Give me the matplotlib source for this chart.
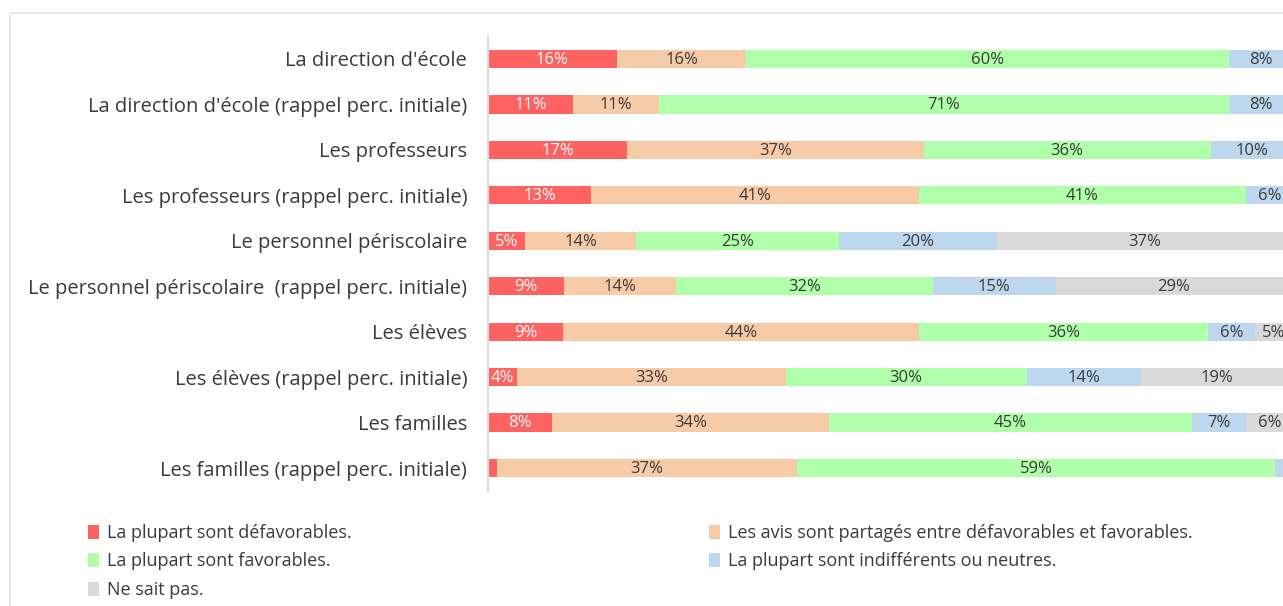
import matplotlib
matplotlib.use("Agg")
import matplotlib.pyplot as plt
from matplotlib.patches import Patch
from matplotlib.lines import Line2D
import numpy as np

plt.rcParams['font.family'] = ['Open Sans', 'DejaVu Sans']

## Data ##
categories = [
    "La direction d'école",
    "La direction d'école (rappel perc. initiale)",
    "Les professeurs",
    "Les professeurs (rappel perc. initiale)",
    "Le personnel périscolaire",
    "Le personnel périscolaire  (rappel perc. initiale)",
    "Les élèves",
    "Les élèves (rappel perc. initiale)",
    "Les familles",
    "Les familles (rappel perc. initiale)",
]
defavorables = [16.0, 10.6, 17.3, 12.8, 4.6, 9.4, 9.3, 3.6, 8.0, 1.1]
partages = [16.1, 10.6, 36.8, 40.7, 13.8, 14.0, 44.2, 33.4, 34.4, 37.3]
favorables = [59.9, 70.8, 35.7, 40.7, 25.2, 31.9, 36.0, 29.9, 45.0, 59.4]
neutres = [8.0, 8.1, 10.3, 5.7, 19.6, 15.2, 5.8, 14.2, 6.8, 2.2]
ne_sait_pas = [0, 0, 0, 0, 36.8, 29.4, 4.6, 19.0, 5.7, 0]

series_names = [
    "La plupart sont défavorables.",
    "Les avis sont partagés entre défavorables et favorables.",
    "La plupart sont favorables.",
    "La plupart sont indifférents ou neutres.",
    "Ne sait pas.",
]
colors = ["#ff6361", "#f7caa8", "#b0ffa9", "#bcd7ee", "#d9d9d9"]
text_colors = ["white", "#3a3a3a", "#3a3a3a", "#3a3a3a", "#3a3a3a"]

all_series = [defavorables, partages, favorables, neutres, ne_sait_pas]

## Figure ##
W, H = 1283, 606
fig = plt.figure(figsize=(W / 100, H / 100), dpi=100)
ax = fig.add_axes([488 / W, 1 - 490.75 / H, 795 / W, 454.5 / H])

y = np.arange(len(categories))
left = np.zeros(len(categories))
for vals, col, tcol in zip(all_series, colors, text_colors):
    vals = np.array(vals)
    ax.barh(y, vals, left=left, height=0.4, color=col, linewidth=0)
    for yi, l, v in zip(y, left, vals):
        if v >= 3:
            ax.text(l + v / 2, yi + 0.02, f"{v:.0f}%", ha='center', va='center',
                    fontsize=12, color=tcol, clip_on=False)
    left = left + vals

ax.set_xlim(0, 795 / 805 * 100)
ax.set_ylim(len(categories) - 0.5, -0.5)
ax.set_yticks(y)
ax.set_yticklabels(categories, fontsize=14.5, color="#3a3a3a")
ax.tick_params(axis='y', length=0, pad=15)
ax.set_xticks([])
for s in ['top', 'right', 'bottom']:
    ax.spines[s].set_visible(False)
ax.spines['left'].set_color('#dcdcdc')
ax.spines['left'].set_linewidth(1.5)

## Card border (top and left) ##
fig.add_artist(Line2D([10 / W, 10 / W, 1], [0, 1 - 13 / H, 1 - 13 / H],
                      transform=fig.transFigure, color='#e3e3e3', lw=1.2))

## Legend ##
handles = [Patch(facecolor=c, edgecolor='none') for c in colors]
leg_kw = dict(frameon=False, fontsize=13, handlelength=0.6, handleheight=0.8,
              handletextpad=0.45, labelspacing=0.58, borderaxespad=0, borderpad=0,
              labelcolor="#3a3a3a")
leg1 = fig.legend([handles[0], handles[2], handles[4]],
                  [series_names[0], series_names[2], series_names[4]],
                  loc='upper left', bbox_to_anchor=(88 / W, 1 - 524 / H), **leg_kw)
leg2 = fig.legend([handles[1], handles[3]],
                  [series_names[1], series_names[3]],
                  loc='upper left', bbox_to_anchor=(709 / W, 1 - 524 / H), **leg_kw)

fig.savefig("out.png", dpi=100)
